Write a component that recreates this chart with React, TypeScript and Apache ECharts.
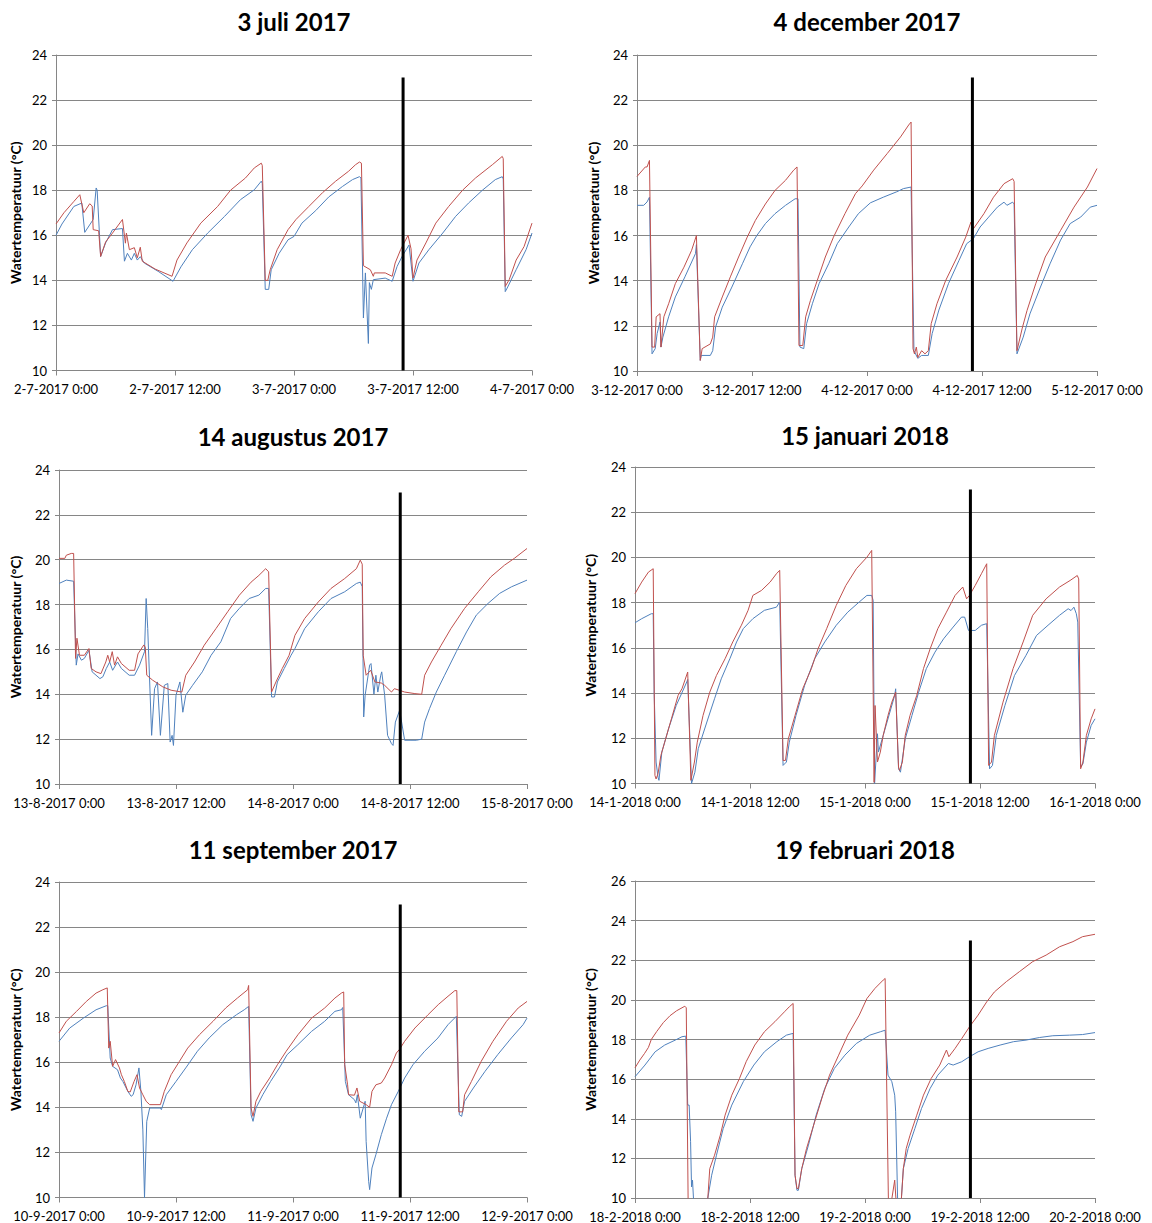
import React, { useEffect, useRef } from "react";
import * as echarts from "echarts";

const titles = ["3 juli 2017", "4 december 2017", "14 augustus 2017", "15 januari 2018", "11 september 2017", "19 februari 2018"];
const yAxisName = "Watertemperatuur (°C)";
const yMins = [10, 10, 10, 10, 10, 10];
const yMaxs = [24, 24, 24, 24, 24, 26];
const markerHour = 35;
const markerBottom = 10;
const markerTop = 23;

const p1Ticks = ["2-7-2017 0:00", "2-7-2017 12:00", "3-7-2017 0:00", "3-7-2017 12:00", "4-7-2017 0:00"];
const p2Ticks = ["3-12-2017 0:00", "3-12-2017 12:00", "4-12-2017 0:00", "4-12-2017 12:00", "5-12-2017 0:00"];
const p3Ticks = ["13-8-2017 0:00", "13-8-2017 12:00", "14-8-2017 0:00", "14-8-2017 12:00", "15-8-2017 0:00"];
const p4Ticks = ["14-1-2018 0:00", "14-1-2018 12:00", "15-1-2018 0:00", "15-1-2018 12:00", "16-1-2018 0:00"];
const p5Ticks = ["10-9-2017 0:00", "10-9-2017 12:00", "11-9-2017 0:00", "11-9-2017 12:00", "12-9-2017 0:00"];
const p6Ticks = ["18-2-2018 0:00", "18-2-2018 12:00", "19-2-2018 0:00", "19-2-2018 12:00", "20-2-2018 0:00"];

// [hour since start, temperature °C]
const p1Red = [[0,16.5],[0.8,17.0],[1.8,17.5],[2.4,17.8],[2.8,17.0],[3.4,17.4],[3.65,17.3],[3.75,16.25],[4.3,16.2],[4.5,15.06],[5.0,15.7],[5.7,16.1],[6.7,16.7],[7.0,15.65],[7.1,16.1],[7.4,15.36],[7.9,15.45],[8.2,15.0],[8.5,15.47],[8.7,14.85],[10,14.5],[11.7,14.18],[12.2,14.9],[13.2,15.66],[14.6,16.54],[16.3,17.28],[17.6,18.0],[19.1,18.54],[20,18.99],[20.7,19.2],[20.8,19.1],[21.1,14.0],[21.35,14.0],[21.6,14.47],[22.3,15.36],[23.4,16.25],[24.2,16.7],[25.5,17.28],[26.9,17.9],[28.2,18.4],[29.5,18.84],[30.2,19.13],[30.6,19.25],[30.8,19.2],[31.0,14.65],[31.7,14.47],[32.0,14.18],[32.1,14.33],[33.2,14.33],[33.9,14.18],[34.2,14.77],[34.75,15.36],[35.5,16.0],[35.8,15.4],[36.0,14.1],[36.4,14.9],[37.3,15.66],[38.3,16.54],[39.6,17.28],[41,18.0],[42.3,18.54],[44,19.13],[45,19.5],[45.1,19.4],[45.3,13.73],[45.7,14.03],[46.4,14.9],[47.2,15.5],[48,16.54]];
const p1Blue = [[0,16.0],[0.6,16.5],[1.8,17.28],[2.6,17.43],[2.9,16.13],[3.75,16.7],[4.05,18.1],[4.15,18.0],[4.5,15.06],[5.0,15.66],[5.7,16.25],[6.7,16.3],[6.9,14.85],[7.2,15.2],[7.6,14.9],[7.9,15.2],[8.2,14.9],[8.5,15.05],[8.9,14.77],[10.3,14.4],[11.8,13.96],[12.6,14.6],[13.75,15.36],[15.3,16.1],[17,16.84],[18.6,17.58],[20,18.02],[20.7,18.4],[20.8,18.3],[21.1,13.6],[21.45,13.6],[21.7,14.47],[22.5,15.2],[23.4,15.8],[24.0,15.95],[24.8,16.54],[26.2,17.1],[27.5,17.7],[28.9,18.17],[29.9,18.47],[30.6,18.6],[30.75,18.55],[31.0,12.33],[31.2,14.33],[31.5,11.2],[31.6,13.9],[31.8,13.6],[32.0,14.03],[33.2,14.1],[33.9,13.96],[34.4,14.62],[34.9,15.06],[35.6,15.57],[36.0,13.96],[36.6,14.77],[37.6,15.36],[39,16.1],[40.3,16.84],[41.6,17.43],[43,18.0],[44.3,18.47],[45,18.6],[45.1,18.5],[45.3,13.5],[45.5,13.66],[46.4,14.47],[47.4,15.36],[48,16.1]];

const p2Red = [[0,18.62],[0.87,19.04],[1.05,19.04],[1.3,19.33],[1.57,11.06],[1.84,11.06],[2.0,12.4],[2.4,12.54],[2.5,11.06],[2.8,12.4],[3.3,12.98],[4.0,13.87],[4.9,14.6],[5.7,15.35],[6.2,16.0],[6.6,10.47],[6.8,10.99],[7.65,11.2],[7.9,11.5],[8.1,12.4],[8.9,13.28],[9.74,14.17],[10.6,15.05],[11.5,15.93],[12.35,16.67],[13.4,17.4],[14.4,18.0],[15.5,18.45],[16.35,18.9],[16.7,19.04],[16.9,11.13],[17.3,11.13],[17.6,12.4],[18.1,13.13],[18.8,14.0],[19.65,15.05],[20.5,15.93],[21.7,16.97],[22.8,17.86],[23.5,18.2],[24.7,18.9],[26.1,19.63],[27.5,20.37],[28.35,20.9],[28.6,21.03],[28.8,10.99],[28.95,10.76],[29.15,11.06],[29.3,10.6],[29.7,10.9],[30.05,10.76],[30.4,10.9],[30.7,12.1],[31.3,12.98],[32.2,14.0],[33.4,15.05],[34.3,15.93],[34.85,16.6],[35.1,16.3],[36.2,16.97],[37.2,17.7],[38.3,18.3],[39.2,18.52],[39.35,18.4],[39.65,10.9],[40.2,11.9],[40.7,12.68],[41.6,13.86],[42.6,15.05],[44.2,16.23],[45.6,17.26],[47,18.15],[48,18.97]];
const p2Blue = [[0,17.34],[0.7,17.34],[1.05,17.49],[1.3,17.7],[1.57,10.76],[1.9,10.99],[2.1,11.66],[2.4,12.17],[2.5,11.06],[2.7,11.5],[3.3,12.4],[4.0,13.28],[5.0,14.17],[6.1,15.2],[6.2,15.6],[6.6,10.47],[6.7,10.69],[7.65,10.69],[7.9,10.9],[8.2,11.95],[8.9,12.83],[9.9,13.72],[11,14.75],[11.8,15.5],[12.5,16.0],[13.4,16.53],[14.4,16.97],[15.5,17.34],[16.5,17.63],[16.8,17.63],[17.0,11.06],[17.4,10.99],[17.7,12.1],[18.3,12.98],[19,13.87],[20,14.75],[20.9,15.64],[22.1,16.38],[23.1,16.97],[24.35,17.45],[25.7,17.7],[27.1,17.94],[27.8,18.08],[28.6,18.15],[28.9,10.9],[29.3,10.56],[29.7,10.69],[30.4,10.69],[30.8,11.66],[31.5,12.7],[32.5,13.87],[33.6,14.9],[34.4,15.64],[35.1,15.86],[35.8,16.38],[36.7,16.82],[37.6,17.26],[38.3,17.48],[38.6,17.34],[39.2,17.48],[39.35,17.4],[39.65,10.76],[40.3,11.5],[41.0,12.53],[42.1,13.72],[43.1,14.75],[44.2,15.8],[45.2,16.53],[46.3,16.82],[47.3,17.26],[48,17.34]];

const p3Red = [[0,20.06],[0.6,20.06],[0.75,20.2],[1.26,20.28],[1.5,20.28],[1.7,15.6],[1.84,16.5],[2.1,15.74],[2.6,15.74],[3.07,16.04],[3.3,15.15],[3.8,15.0],[4.3,14.92],[4.8,15.44],[5.0,15.74],[5.2,15.44],[5.46,15.9],[5.7,15.3],[6.0,15.67],[6.4,15.37],[7.2,15.07],[7.75,15.07],[8.1,15.8],[8.7,16.2],[8.85,16.1],[9.0,14.85],[9.6,14.63],[10.65,14.33],[11.5,14.18],[12.6,14.1],[13.0,14.85],[13.9,15.44],[14.9,16.19],[16.1,16.93],[17.3,17.68],[18.5,18.42],[19.7,19.0],[20.5,19.3],[21.2,19.6],[21.5,19.46],[21.8,14.1],[22.25,14.55],[22.9,15.15],[23.6,15.74],[24.2,16.63],[25.2,17.38],[26.6,18.12],[27.9,18.72],[29.3,19.16],[30.5,19.6],[30.9,19.98],[31.1,19.8],[31.2,15.74],[31.5,14.85],[31.97,15.07],[32.4,14.55],[33.06,14.5],[33.4,14.4],[34.1,14.1],[34.4,14.25],[34.9,14.18],[35.45,14.1],[36.5,14.03],[37.2,14.0],[37.5,14.85],[38.2,15.44],[39.2,16.19],[40.2,16.93],[41.6,17.83],[43.0,18.57],[44.3,19.24],[45.7,19.76],[46.7,20.06],[48,20.5]];
const p3Blue = [[0,18.94],[0.75,19.09],[1.5,19.04],[1.77,15.3],[1.95,15.8],[2.3,15.52],[2.6,15.6],[3.07,15.96],[3.4,15.0],[4.2,14.7],[4.5,14.78],[4.85,15.15],[5.2,15.44],[5.5,15.07],[6.0,15.44],[6.4,15.15],[7.2,14.85],[7.75,14.85],[8.26,15.3],[8.77,15.9],[8.94,18.27],[9.1,16.93],[9.5,12.17],[9.8,14.25],[10.1,14.55],[10.4,12.17],[10.8,14.4],[11.16,14.48],[11.4,11.87],[11.6,12.17],[11.74,11.72],[12.0,13.96],[12.4,14.55],[12.7,13.2],[13.0,13.96],[13.7,14.4],[14.7,15.0],[15.6,15.74],[16.6,16.34],[17.6,17.38],[18.5,17.83],[19.5,18.27],[20.5,18.42],[21.2,18.72],[21.5,18.72],[21.8,13.88],[22.1,13.88],[22.4,14.55],[23.1,15.15],[23.8,15.74],[24.2,16.04],[25.2,16.93],[26.6,17.68],[27.9,18.27],[29.3,18.57],[30.5,18.94],[30.9,19.0],[31.1,18.8],[31.18,15.6],[31.25,12.99],[31.4,13.96],[31.86,15.3],[32.0,15.37],[32.3,14.0],[32.5,14.85],[32.7,14.1],[33.0,14.85],[33.1,15.0],[33.4,13.96],[33.7,12.17],[34.1,11.8],[34.26,11.72],[34.5,12.76],[34.94,13.29],[35.45,11.95],[36.1,11.95],[36.65,11.95],[37.2,12.0],[37.5,12.76],[38.0,13.36],[38.7,14.1],[39.55,14.85],[40.75,15.9],[41.8,16.78],[42.8,17.53],[44.0,18.05],[45.2,18.5],[46.4,18.79],[48,19.09]];

const p4Red = [[0,18.4],[0.7,18.91],[1.4,19.35],[1.9,19.5],[2.08,10.36],[2.2,10.2],[2.4,10.43],[2.7,11.24],[3.1,11.83],[3.8,12.86],[4.5,13.9],[4.9,14.19],[5.5,14.93],[5.83,10.14],[6.2,10.95],[6.5,11.83],[7.1,13.01],[7.8,14.04],[8.5,14.78],[9.4,15.52],[10.2,16.26],[11.1,17.0],[11.8,17.66],[12.3,18.32],[13.2,18.54],[14.1,18.91],[14.76,19.28],[15.1,19.43],[15.45,11.02],[15.7,11.02],[16.0,11.98],[16.7,13.01],[17.5,14.19],[18.4,15.08],[19.1,15.96],[20.0,16.85],[21.0,17.88],[22.0,18.76],[23.1,19.5],[24.2,20.01],[24.7,20.31],[24.95,10.05],[25.05,13.45],[25.3,10.95],[25.6,11.39],[25.9,12.13],[26.4,13.01],[26.8,13.6],[27.2,14.04],[27.5,10.73],[27.6,10.58],[27.9,10.95],[28.2,12.13],[28.7,13.01],[29.4,13.9],[30.1,15.08],[30.8,15.96],[31.6,16.85],[32.5,17.58],[33.4,18.32],[34.2,18.69],[34.6,18.17],[34.9,18.32],[35.5,18.76],[36.15,19.28],[36.7,19.72],[36.9,10.8],[37.2,10.95],[37.5,12.13],[38.4,13.6],[39.45,15.08],[40.5,16.26],[41.5,17.44],[42.9,18.17],[44.3,18.69],[45.4,18.98],[46.15,19.2],[46.3,19.05],[46.5,10.65],[46.74,10.95],[47.1,12.13],[47.6,12.86],[48,13.3]];
const p4Blue = [[0,17.11],[0.7,17.29],[1.7,17.51],[1.9,17.51],[2.0,14.0],[2.2,10.95],[2.4,10.28],[2.5,10.14],[2.8,11.39],[3.5,12.42],[4.3,13.45],[5.4,14.49],[5.5,14.6],[5.9,10.0],[6.25,10.5],[6.6,11.54],[7.5,12.72],[8.3,13.75],[9.0,14.63],[9.9,15.52],[10.6,16.26],[11.3,16.85],[12.3,17.29],[13.5,17.66],[14.76,17.8],[15.1,18.03],[15.45,10.8],[15.8,10.95],[16.1,11.83],[16.8,13.01],[17.7,14.34],[18.75,15.52],[19.8,16.26],[21.0,17.0],[22.2,17.58],[23.4,18.03],[24.2,18.32],[24.7,18.32],[24.85,18.1],[25.0,10.0],[25.3,12.2],[25.4,11.39],[25.9,12.13],[26.6,13.16],[27.1,13.9],[27.2,14.19],[27.5,10.65],[27.7,10.5],[28.2,11.98],[28.9,13.01],[29.6,14.04],[30.4,15.08],[31.3,15.81],[32.2,16.4],[33.2,16.92],[34.07,17.36],[34.4,17.36],[34.8,16.77],[35.5,16.77],[36.15,17.0],[36.7,17.07],[37.0,10.65],[37.3,10.8],[37.7,12.13],[38.6,13.45],[39.6,14.78],[40.8,15.67],[41.9,16.55],[43.1,17.0],[44.3,17.44],[45.2,17.73],[45.5,17.65],[45.8,17.8],[46.05,17.51],[46.2,17.14],[46.5,10.73],[46.74,10.87],[47.1,11.83],[47.6,12.57],[48,12.86]];

const p5Red = [[0,17.3],[0.75,17.82],[1.8,18.26],[2.8,18.7],[3.8,19.07],[4.5,19.22],[4.95,19.3],[5.1,16.63],[5.25,16.93],[5.5,15.82],[5.8,16.12],[6.2,15.75],[6.4,15.45],[6.7,15.15],[7.06,14.71],[7.3,14.68],[7.7,15.15],[8.0,15.45],[8.26,14.86],[8.6,14.56],[8.94,14.27],[9.3,14.12],[10.4,14.12],[10.8,14.71],[11.5,15.45],[12.35,16.04],[13.2,16.63],[14.4,17.22],[15.8,17.82],[17.1,18.41],[18.3,18.85],[19.35,19.22],[19.45,19.41],[19.7,13.97],[19.9,13.6],[20.2,14.27],[20.7,14.71],[21.6,15.3],[22.4,15.89],[23.3,16.49],[24.5,17.22],[25.9,17.96],[27.25,18.41],[28.3,18.85],[28.96,19.07],[29.2,19.12],[29.3,15.9],[29.6,15.0],[29.7,14.56],[30.3,14.54],[30.56,14.86],[30.84,14.27],[31.5,14.12],[31.86,14.0],[32.1,14.71],[32.5,15.0],[33.06,15.08],[33.4,15.3],[34.1,15.89],[34.6,16.41],[34.9,16.56],[35.45,16.93],[36.5,17.52],[37.85,18.11],[38.9,18.56],[39.9,18.93],[40.6,19.18],[40.8,19.18],[41.0,13.8],[41.4,13.8],[41.6,14.56],[42.3,15.15],[43.3,16.04],[44.5,16.93],[45.9,17.82],[47.1,18.41],[48,18.7]];
const p5Blue = [[0,16.93],[1.1,17.52],[2.5,17.96],[3.8,18.33],[4.85,18.51],[5.0,18.51],[5.25,16.19],[5.5,15.82],[6.0,15.67],[6.3,15.3],[6.55,15.15],[7.06,14.71],[7.4,14.49],[7.6,14.56],[7.9,15.0],[8.2,15.75],[8.4,14.71],[8.6,13.0],[8.77,10.0],[9.0,13.38],[9.3,13.97],[10.4,13.97],[10.5,13.9],[11.0,14.56],[12.0,15.15],[13.0,15.75],[14.2,16.49],[15.4,17.08],[16.8,17.67],[18.2,18.11],[19.0,18.33],[19.45,18.48],[19.7,13.67],[19.9,13.38],[20.2,13.97],[20.9,14.56],[21.7,15.15],[22.6,15.75],[23.4,16.34],[24.5,16.78],[25.9,17.37],[27.25,17.82],[28.3,18.26],[28.96,18.33],[29.1,18.43],[29.37,15.15],[29.7,14.56],[30.3,14.34],[30.45,14.2],[30.6,14.56],[30.9,13.52],[31.3,14.12],[31.4,14.27],[31.5,12.49],[31.76,10.72],[31.86,10.35],[32.1,11.31],[32.5,11.9],[33.06,12.79],[33.6,13.52],[34.1,14.12],[34.8,14.71],[35.45,15.3],[36.3,15.89],[37.5,16.49],[38.87,17.08],[39.9,17.67],[40.75,18.04],[41.06,13.67],[41.3,13.6],[41.6,14.27],[42.5,14.86],[43.7,15.6],[45.0,16.34],[46.4,17.08],[47.6,17.67],[48,17.96]];

const p6Red = [[0,16.57],[0.5,16.96],[1.0,17.3],[1.4,17.6],[1.7,18.0],[2.26,18.4],[2.95,18.85],[3.65,19.2],[4.34,19.45],[5.2,19.68],[5.35,19.6],[5.55,9.5],[7.5,9.5],[7.6,10.0],[7.8,11.48],[8.3,12.16],[8.9,13.17],[9.4,14.18],[10.1,15.19],[10.9,16.03],[11.6,16.88],[12.5,17.72],[13.5,18.39],[14.6,18.9],[15.6,19.4],[16.1,19.65],[16.5,19.82],[16.7,11.15],[16.9,10.48],[17.05,10.48],[17.4,11.48],[17.9,12.5],[18.75,13.85],[19.6,15.19],[20.3,16.2],[21.25,17.21],[22.2,18.22],[23.4,19.23],[24.2,20.07],[25.04,20.58],[25.9,21.0],[26.1,21.08],[26.45,9.6],[26.75,9.8],[27.1,10.9],[27.25,9.8],[27.75,9.6],[28.0,11.48],[28.3,12.5],[28.7,13.17],[29.4,14.18],[30.1,15.19],[30.9,16.03],[31.8,16.71],[32.5,17.47],[32.75,17.13],[33.4,17.55],[34.1,18.05],[34.9,18.64],[35.8,19.23],[36.7,19.9],[37.5,20.4],[38.75,20.92],[40.1,21.42],[41.5,21.93],[42.9,22.26],[44.3,22.68],[45.7,22.94],[46.7,23.19],[48,23.31]];
const p6Blue = [[0,16.12],[1.04,16.71],[2.1,17.38],[3.1,17.72],[4.2,17.97],[4.9,18.14],[5.3,18.17],[5.5,14.69],[5.65,14.69],[5.8,12.84],[5.9,10.56],[6.0,10.9],[6.1,10.0],[6.3,9.5],[7.4,9.5],[7.6,10.0],[8.0,11.15],[8.5,12.16],[9.2,13.5],[10.1,14.69],[11.3,15.87],[12.4,16.71],[13.5,17.38],[14.8,17.89],[15.8,18.22],[16.5,18.31],[16.7,11.15],[16.9,10.39],[17.05,10.39],[17.4,11.48],[18.1,12.67],[18.9,14.18],[19.8,15.53],[20.8,16.54],[21.9,17.21],[23.1,17.8],[24.5,18.22],[25.6,18.39],[26.1,18.47],[26.4,16.2],[26.8,15.87],[27.1,15.19],[27.2,14.35],[27.4,10.0],[27.5,9.5],[27.7,9.5],[27.8,10.0],[28.0,11.48],[28.5,12.5],[29.2,13.5],[29.9,14.52],[30.8,15.53],[31.6,16.2],[32.7,16.79],[33.2,16.71],[34.1,16.88],[34.9,17.13],[35.8,17.38],[36.85,17.55],[38.1,17.72],[39.5,17.89],[40.8,17.97],[42.2,18.1],[43.6,18.19],[45.35,18.22],[46.7,18.25],[48,18.35]];

const ticksList = [p1Ticks, p2Ticks, p3Ticks, p4Ticks, p5Ticks, p6Ticks];
const redList = [p1Red, p2Red, p3Red, p4Red, p5Red, p6Red];
const blueList = [p1Blue, p2Blue, p3Blue, p4Blue, p5Blue, p6Blue];

const FONT = "Lato";
const RED = "#C0504D";
const BLUE = "#4F81BD";
const GRIDC = "#868686";

// layout (pixels)
const layout = [
  { left: 56, top: 55, width: 476, height: 315.5, nameGap: 34, titleY: 22 },
  { left: 637, top: 55, width: 460, height: 316, nameGap: 37, titleY: 22 },
  { left: 59, top: 470, width: 468, height: 314, nameGap: 37, titleY: 437 },
  { left: 635, top: 467, width: 460, height: 316.5, nameGap: 38, titleY: 436 },
  { left: 59, top: 882, width: 468, height: 315.5, nameGap: 37, titleY: 850 },
  { left: 635, top: 881, width: 460, height: 317, nameGap: 38, titleY: 850 },
];

function buildOption() {
  const grid: any[] = [];
  const xAxis: any[] = [];
  const yAxis: any[] = [];
  const series: any[] = [];
  const title: any[] = [];
  layout.forEach((g, i) => {
    grid.push({ left: g.left, top: g.top, width: g.width, height: g.height, containLabel: false, outerBoundsMode: "none" });
    title.push({
      text: titles[i],
      left: g.left + g.width / 2,
      top: g.titleY - 13,
      padding: 0,
      textAlign: "center",
      textStyle: { fontFamily: FONT, fontWeight: "bold", fontSize: 24, color: "#000" },
    });
    const ticks = ticksList[i];
    xAxis.push({
      type: "value",
      gridIndex: i,
      min: 0,
      max: 48,
      interval: 12,
      axisLine: { show: true, lineStyle: { color: GRIDC, width: 1 } },
      axisTick: { show: true, length: 5, lineStyle: { color: GRIDC } },
      splitLine: { show: false },
      axisLabel: {
        show: true,
        margin: 12,
        fontFamily: FONT,
        fontSize: 13,
        color: "#000",
        showMinLabel: true,
        showMaxLabel: true,
        formatter: (v: number) => ticks[Math.round(v / 12)] ?? "",
      },
    });
    yAxis.push({
      type: "value",
      gridIndex: i,
      min: yMins[i],
      max: yMaxs[i],
      interval: 2,
      name: yAxisName,
      nameLocation: "middle",
      nameGap: g.nameGap,
      nameTextStyle: { fontFamily: FONT, fontWeight: "bold", fontSize: 14, color: "#000" },
      axisLine: { show: true, lineStyle: { color: GRIDC, width: 1 } },
      axisTick: { show: true, length: 4, lineStyle: { color: GRIDC } },
      splitLine: { show: true, lineStyle: { color: GRIDC, width: 1 } },
      axisLabel: { margin: 9, fontFamily: FONT, fontSize: 13, color: "#000" },
    });
    series.push({
      type: "line",
      xAxisIndex: i,
      yAxisIndex: i,
      data: blueList[i],
      showSymbol: false,
      symbol: "none",
      clip: true,
      lineStyle: { color: BLUE, width: 1 },
      itemStyle: { color: BLUE },
      silent: true,
    });
    series.push({
      type: "line",
      xAxisIndex: i,
      yAxisIndex: i,
      data: redList[i],
      showSymbol: false,
      symbol: "none",
      clip: true,
      lineStyle: { color: RED, width: 1 },
      itemStyle: { color: RED },
      silent: true,
    });
    series.push({
      type: "line",
      xAxisIndex: i,
      yAxisIndex: i,
      data: [[markerHour, markerBottom], [markerHour, markerTop]],
      showSymbol: false,
      symbol: "none",
      lineStyle: { color: "#000", width: 3 },
      itemStyle: { color: "#000" },
      silent: true,
      z: 5,
    });
  });
  return {
    animation: false,
    backgroundColor: "#fff",
    textStyle: { fontFamily: FONT },
    title,
    grid,
    xAxis,
    yAxis,
    series,
  };
}

export default function App() {
  const ref = useRef<HTMLDivElement>(null);
  useEffect(() => {
    if (!ref.current) return;
    const chart = echarts.init(ref.current, undefined, { renderer: "svg" });
    chart.setOption(buildOption() as any);
    return () => chart.dispose();
  }, []);
  return <div ref={ref} style={{ position: "absolute", left: 0, top: 0, width: 1152, height: 1223 }} />;
}
